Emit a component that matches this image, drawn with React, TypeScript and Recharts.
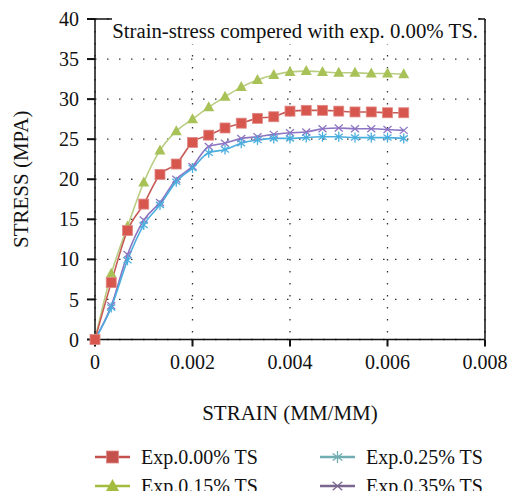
import { LineChart, Line, XAxis, YAxis, CartesianGrid, ReferenceLine } from "recharts";

const strain = [
  0, 0.000333, 0.000667, 0.001, 0.001333, 0.001667, 0.002, 0.002333, 0.002667, 0.003,
  0.003333, 0.003667, 0.004, 0.004333, 0.004667, 0.005, 0.005333, 0.005667, 0.006, 0.006333,
];
const exp000 = [0, 7.1, 13.6, 16.9, 20.6, 21.9, 24.6, 25.5, 26.4, 27.0, 27.6, 27.8, 28.5, 28.6, 28.6, 28.5, 28.4, 28.4, 28.3, 28.3];
const exp015 = [0, 8.2, 14.1, 19.6, 23.6, 26.0, 27.5, 29.0, 30.3, 31.5, 32.4, 33.0, 33.4, 33.5, 33.4, 33.3, 33.3, 33.2, 33.2, 33.1];
const exp025 = [0, 4.0, 9.9, 14.3, 16.8, 19.7, 21.4, 23.3, 23.7, 24.5, 24.9, 25.1, 25.1, 25.2, 25.3, 25.3, 25.2, 25.2, 25.2, 25.1];
const exp035 = [0, 4.2, 10.6, 14.9, 17.1, 20.0, 21.6, 24.1, 24.5, 25.1, 25.3, 25.6, 25.8, 25.9, 26.3, 26.4, 26.3, 26.3, 26.2, 26.1];

const xTicks = [0, 0.002, 0.004, 0.006, 0.008];
const yTicks = [0, 5, 10, 15, 20, 25, 30, 35, 40];

const FONT = "'Liberation Serif', 'DejaVu Serif', serif";

type Shape = "square" | "triangle" | "star" | "cross";

// drawn in this order, so the red series ends up on top
const SERIES: { key: string; name: string; line: string; mark: string; legend: string; shape: Shape }[] = [
  { key: "s035", name: "Exp.0.35% TS", line: "#8c74c2", mark: "#8c74c2", legend: "#7b6690", shape: "cross" },
  { key: "s025", name: "Exp.0.25% TS", line: "#4aaede", mark: "#4aaede", legend: "#6fadb0", shape: "star" },
  { key: "s015", name: "Exp.0.15% TS", line: "#b9cd82", mark: "#a9c258", legend: "#a3bb3f", shape: "triangle" },
  { key: "s000", name: "Exp.0.00% TS", line: "#c65a55", mark: "#d7574f", legend: "#c4514c", shape: "square" },
];

const data = strain.map((x, i) => ({
  x,
  s000: exp000[i],
  s015: exp015[i],
  s025: exp025[i],
  s035: exp035[i],
}));

function Marker({ cx, cy, shape, color, r = 5 }: { cx: number; cy: number; shape: Shape; color: string; r?: number }) {
  if (shape === "square")
    return <rect x={cx - r} y={cy - r} width={r * 2} height={r * 2} fill={color} stroke="#e08a86" strokeWidth={0.8} />;
  if (shape === "triangle")
    return <polygon points={`${cx},${cy - r - 1} ${cx + r + 0.5},${cy + r - 1} ${cx - r - 0.5},${cy + r - 1}`} fill={color} />;
  if (shape === "star")
    return (
      <g stroke={color} strokeWidth={1.3}>
        <line x1={cx} y1={cy - r} x2={cx} y2={cy + r} />
        <line x1={cx - r * 0.8} y1={cy - r * 0.6} x2={cx + r * 0.8} y2={cy + r * 0.6} />
        <line x1={cx - r * 0.8} y1={cy + r * 0.6} x2={cx + r * 0.8} y2={cy - r * 0.6} />
      </g>
    );
  return (
    <g stroke={color} strokeWidth={1.3}>
      <line x1={cx - r * 0.8} y1={cy - r * 0.7} x2={cx + r * 0.8} y2={cy + r * 0.7} />
      <line x1={cx - r * 0.8} y1={cy + r * 0.7} x2={cx + r * 0.8} y2={cy - r * 0.7} />
    </g>
  );
}

const LEGEND_ORDER = [
  { name: "Exp.0.00% TS", col: 0, row: 0 },
  { name: "Exp.0.25% TS", col: 1, row: 0 },
  { name: "Exp.0.15% TS", col: 0, row: 1 },
  { name: "Exp.0.35% TS", col: 1, row: 1 },
];

export default function App() {
  return (
    <div style={{ position: "absolute", left: 0, top: 0, width: 509, height: 491, background: "#fff", overflow: "hidden" }}>
      <LineChart width={509} height={491} data={data} margin={{ top: 19, right: 24, left: 35, bottom: 61.5 }}>
        <CartesianGrid stroke="#333" strokeDasharray="1.5 10.5" strokeWidth={1.3} horizontal vertical />
        <XAxis
          type="number"
          dataKey="x"
          domain={[0, 0.008]}
          ticks={xTicks}
          height={90}
          tickFormatter={(v: number) => (v === 0 ? "0" : v.toFixed(3))}
          tick={{ fontSize: 20, fill: "#111", fontFamily: FONT }}
          stroke="#111"
          axisLine={{ strokeWidth: 1.5 }}
          tickLine={{ strokeWidth: 2 }}
          tickSize={7}
          tickMargin={8}
          label={{ value: "STRAIN (MM/MM)", position: "insideBottom", offset: 10, fontSize: 21, fill: "#111", fontFamily: FONT }}
        />
        <YAxis
          type="number"
          domain={[0, 40]}
          ticks={yTicks}
          width={60}
          tick={{ fontSize: 20, fill: "#111", fontFamily: FONT }}
          stroke="#111"
          axisLine={{ strokeWidth: 1.5 }}
          tickLine={{ strokeWidth: 2 }}
          tickSize={8}
          tickMargin={8}
          label={{ value: "STRESS (MPA)", angle: -90, position: "insideLeft", offset: -14, fontSize: 21, fill: "#111", fontFamily: FONT, style: { textAnchor: "middle" } }}
        />
        <ReferenceLine y={40} stroke="#111" strokeWidth={1.5} />
        <ReferenceLine x={0.008} stroke="#111" strokeWidth={1.5} />
        {SERIES.map((s) => (
          <Line
            key={s.key}
            dataKey={s.key}
            name={s.name}
            type="monotone"
            stroke={s.line}
            strokeWidth={1.6}
            isAnimationActive={false}
            dot={(p: any) => <Marker key={p.index} cx={p.cx} cy={p.cy} shape={s.shape} color={s.mark} />}
            activeDot={false}
          />
        ))}
      </LineChart>
      <div
        style={{
          position: "absolute",
          right: 31,
          top: 18,
          fontFamily: FONT,
          fontSize: 20.8,
          color: "#111",
          background: "#fff",
          lineHeight: "26px",
          whiteSpace: "nowrap",
        }}
      >
        Strain-stress compered with exp. 0.00% TS.
      </div>
      <svg width={509} height={60} style={{ position: "absolute", left: 0, top: 440 }}>
        {LEGEND_ORDER.map((l) => {
          const s = SERIES.find((d) => d.name === l.name)!;
          const x0 = l.col === 0 ? 95 : 320;
          const y = 17 + l.row * 29;
          return (
            <g key={l.name}>
              <line x1={x0} y1={y} x2={x0 + 35} y2={y} stroke={s.legend} strokeWidth={2.5} />
              <Marker cx={x0 + 17.5} cy={y} shape={s.shape} color={s.legend} r={6} />
              <text x={x0 + 46} y={y + 7} fontFamily={FONT} fontSize={20} fill="#111">
                {l.name}
              </text>
            </g>
          );
        })}
      </svg>
    </div>
  );
}
